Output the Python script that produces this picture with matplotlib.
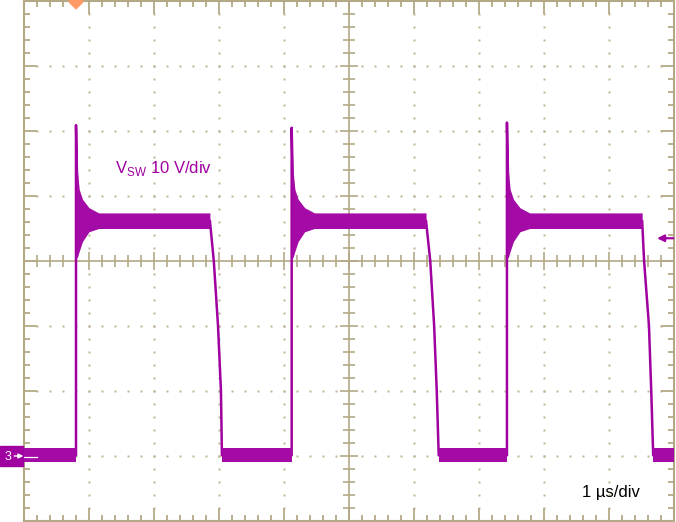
import numpy as np
import matplotlib.pyplot as plt
from matplotlib.patches import Rectangle, Polygon

plt.rcParams['font.family'] = ['Liberation Sans', 'DejaVu Sans']
plt.rcParams['mathtext.fontset'] = 'custom'
plt.rcParams['mathtext.rm'] = 'Liberation Sans'

# scope capture: 1 us/div across, 10 V/div up, ch3 ground one div above the bottom
rise_t = [0.80, 4.118, 7.43]
spike_v = [50.9, 50.5, 51.3]
fall_t = [[2.86, 2.92, 2.985, 3.03, 3.045],
          [6.185, 6.25, 6.31, 6.35, 6.38],
          [9.51, 9.54, 9.615, 9.65, 9.68]]
fall_v = [36.2, 30.0, 20.0, 10.0, 0.1]

# ringing envelope after each rising edge (us after the edge)
ring_dt = [0.02, 0.05, 0.1, 0.2, 0.35]
ring_hi = [44.0, 41.0, 39.5, 38.2, 37.4]
ring_lo = [30.5, 31.5, 33.0, 34.5, 35.0]

high_hi, high_lo, high_mid = 37.4, 35.0, 36.2
low_hi, low_lo, low_mid = 1.2, -0.9, 0.1

trig_t = 0.80
trig_level = 33.5

trace_c = '#a000a0'
band_c = '#a40aa6'
grid_c = '#b3a986'
dot_c = '#bcb492'

fig = plt.figure(figsize=(6.76, 5.22), dpi=100)
ax = fig.add_axes([24 / 676, 1 / 522, 650 / 676, 520 / 522])
ax.set_xlim(0, 10)
ax.set_ylim(-10, 70)

# graticule
ax.set_xticks(np.arange(0, 11, 1))
ax.set_xticks(np.arange(0, 10.01, 0.2), minor=True)
ax.set_yticks(np.arange(-10, 71, 10))
ax.set_yticks(np.arange(-10, 70.1, 2), minor=True)
ax.tick_params(which='both', direction='in', top=True, right=True,
               labelbottom=False, labelleft=False, color=grid_c, width=1.3)
ax.tick_params(which='major', length=9.5)
ax.tick_params(which='minor', length=4.5)
for s in ax.spines.values():
    s.set_color(grid_c)
    s.set_linewidth(1.5)

xs = np.round(np.arange(0, 10.01, 0.2), 2)
ys = np.round(np.arange(-10, 70.1, 2), 2)
for gx in range(1, 10):
    if gx == 5:
        continue
    yy = ys[(ys > -10) & (ys < 70) & (ys != 30)]
    ax.plot(np.full(len(yy), gx), yy, ls='none', marker='s', ms=1.5,
            mec='none', mfc=dot_c, zorder=1)
for gy in range(0, 70, 10):
    if gy == 30:
        continue
    xx = xs[(xs > 0) & (xs < 10) & (xs != 5)]
    ax.plot(xx, np.full(len(xx), gy), ls='none', marker='s', ms=1.5,
            mec='none', mfc=dot_c, zorder=1)

ax.axhline(30, color=grid_c, lw=1.2, zorder=1)
ax.axvline(5, color=grid_c, lw=1.2, zorder=1)
minor_x = xs[(xs > 0) & (xs < 10) & (np.abs(xs - np.round(xs)) > 1e-6)]
major_x = np.arange(1, 10)
ax.plot(minor_x, np.full(len(minor_x), 30), ls='none', marker='|', ms=8.6,
        mew=1.2, color=grid_c, zorder=1)
ax.plot(major_x, np.full(len(major_x), 30), ls='none', marker='|', ms=13,
        mew=1.2, color=grid_c, zorder=1)
minor_y = ys[(ys > -10) & (ys < 70) & (ys % 10 != 0)]
major_y = np.arange(0, 70, 10)
ax.plot(np.full(len(minor_y), 5), minor_y, ls='none', marker='_', ms=8.6,
        mew=1.2, color=grid_c, zorder=1)
ax.plot(np.full(len(major_y), 5), major_y, ls='none', marker='_', ms=13,
        mew=1.2, color=grid_c, zorder=1)

# noise bands
low_start = [0.0] + [f[-1] for f in fall_t]
low_end = rise_t + [10.0]
for a, b in zip(low_start, low_end):
    ax.fill_between([a, b], [low_lo, low_lo], [low_hi, low_hi],
                    color=band_c, lw=0, zorder=3)
for tr, sp, ft in zip(rise_t, spike_v, fall_t):
    bx = [tr] + [tr + d for d in ring_dt] + [ft[0]]
    up = [sp] + ring_hi + [high_hi]
    lo = [ring_lo[0]] + ring_lo + [high_lo]
    ax.fill_between(bx, lo, up, color=band_c, lw=0, zorder=3)

# trace centre line with the edges
tx, ty = [0.0], [low_mid]
for tr, sp, ft in zip(rise_t, spike_v, fall_t):
    tx += [tr, tr, tr + 0.03]
    ty += [low_mid, sp, high_mid]
    tx += ft
    ty += fall_v
tx.append(10.0)
ty.append(low_mid)
ax.plot(tx, ty, color=trace_c, lw=1.8, zorder=2)

# labels
ax.text(1.40, 43.5, r'V$_{\mathrm{SW}}$ 10 V/div', color=trace_c, fontsize=12,
        va='baseline', ha='left')
ax.text(8.585, -6.3, '1 \u00b5s/div', color='black', fontsize=12,
        va='baseline', ha='left')

# channel 3 ground marker
ax.add_patch(Rectangle((-0.369, -1.54), 0.354, 3.08, color=trace_c,
                       clip_on=False, zorder=5))
ax.text(-0.25, -0.1, '3', color='white', fontsize=9, ha='center',
        va='center', zorder=6, clip_on=False)
ax.annotate('', xy=(-0.01, 0.0), xytext=(-0.15, 0.0), zorder=6,
            arrowprops=dict(arrowstyle='-|>', color='white', lw=1.0,
                            mutation_scale=7, shrinkA=0, shrinkB=0),
            annotation_clip=False)
ax.plot([-0.01, 0.2], [-0.1, -0.1], color='white', lw=0.9, zorder=6)

# trigger level and position markers
ax.annotate('', xy=(9.74, trig_level), xytext=(9.99, trig_level), zorder=6,
            arrowprops=dict(arrowstyle='-|>', color=trace_c, lw=1.6,
                            mutation_scale=10, shrinkA=0, shrinkB=0))
ax.add_patch(Polygon([(trig_t - 0.1, 70.2), (trig_t + 0.1, 70.2),
                      (trig_t + 0.1, 69.8), (trig_t, 68.8),
                      (trig_t - 0.1, 69.8)],
                     closed=True, color='#ff9966', clip_on=False, zorder=6))

fig.savefig('out.png', dpi=100)
